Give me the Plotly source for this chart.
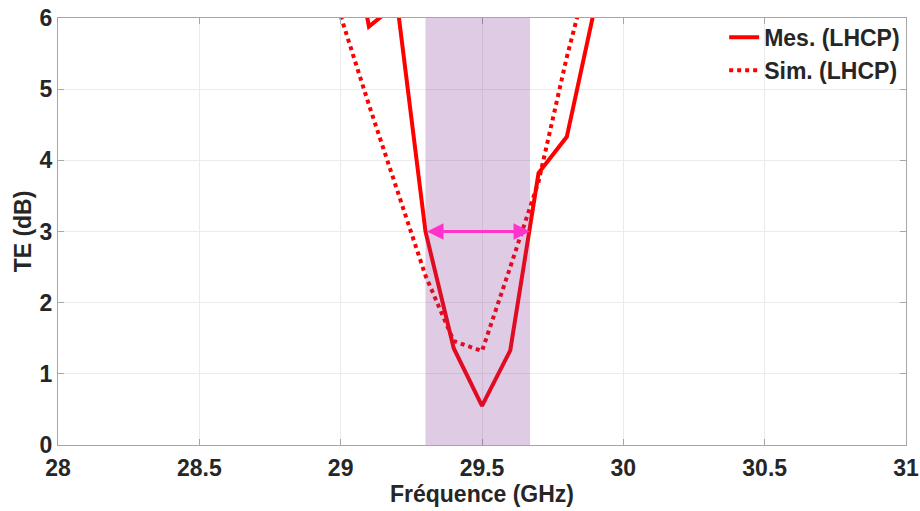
import plotly.graph_objects as go

# Data
freq = [29.0, 29.1, 29.2, 29.3, 29.4, 29.5, 29.6, 29.7, 29.8, 29.9, 30.0]
mes_lhcp = [8.0, 5.88, 6.2, 3.0, 1.36, 0.55, 1.33, 3.82, 4.33, 6.05, 8.0]
sim_lhcp = [6.03, 4.78, 3.58, 2.38, 1.46, 1.32, 2.5, 3.7, 5.45, 7.1, 8.5]

band_start = 29.3
band_end = 29.67
arrow_level = 3.0

x_ticks = [28, 28.5, 29, 29.5, 30, 30.5, 31]
x_ticklabels = ["28", "28.5", "29", "29.5", "30", "30.5", "31"]
y_ticks = [0, 1, 2, 3, 4, 5, 6]

FONT = "Liberation Sans, Arial, sans-serif"
TXT = "#262626"

fig = go.Figure()
fig.add_trace(go.Scatter(x=freq, y=mes_lhcp, mode="lines", name="Mes. (LHCP)",
                         line=dict(color="#ff0000", width=4)))
fig.add_trace(go.Scatter(x=freq, y=sim_lhcp, mode="lines", name="Sim. (LHCP)",
                         line=dict(color="#ff0000", width=4, dash="dot")))

fig.add_shape(type="rect", xref="x", yref="y", x0=band_start, x1=band_end, y0=0, y1=6,
              fillcolor="rgb(126,47,142)", opacity=0.25, line=dict(width=0), layer="above")

fig.add_annotation(x=band_end, y=arrow_level, ax=band_start, ay=arrow_level,
                   xref="x", yref="y", axref="x", ayref="y", text="",
                   showarrow=True, arrowhead=2, arrowside="end+start", arrowsize=1.1,
                   arrowwidth=3, arrowcolor="#ff33cc")

axis_common = dict(showline=True, linecolor="#a6a6a6", linewidth=1.3, mirror="ticks",
                   ticks="inside", ticklen=6, tickcolor="#a6a6a6", showgrid=True,
                   gridcolor="#ebebeb", gridwidth=1, zeroline=False, automargin=False,
                   ticklabeloverflow="allow",
                   tickfont=dict(family=FONT, size=23, color=TXT, weight="bold"))

fig.update_xaxes(range=[28, 31], tickvals=x_ticks, ticktext=x_ticklabels,
                 title=dict(text="<b>Fréquence (GHz)</b>", font=dict(family=FONT, size=23, color=TXT),
                            standoff=4),
                 ticklabelstandoff=2,
                 **axis_common)
fig.update_yaxes(range=[0, 6], tickvals=y_ticks,
                 title=dict(text="<b>TE (dB)</b>", font=dict(family=FONT, size=23, color=TXT),
                            standoff=1),
                 ticklabelstandoff=0,
                 **axis_common)

fig.update_layout(
    width=920, height=511,
    margin=dict(l=58, r=14, t=18, b=66, autoexpand=False),
    plot_bgcolor="white", paper_bgcolor="white",
    showlegend=True,
    legend=dict(x=0.999, y=1.005, xanchor="right", yanchor="top", bgcolor="rgba(0,0,0,0)",
                font=dict(family=FONT, size=23, color=TXT, weight="bold"),
                itemwidth=30, tracegroupgap=0),
)

fig.write_html("out.html",
               config={"displayModeBar": False},
               post_script="document.body.style.margin='0';document.body.style.overflow='hidden';")
